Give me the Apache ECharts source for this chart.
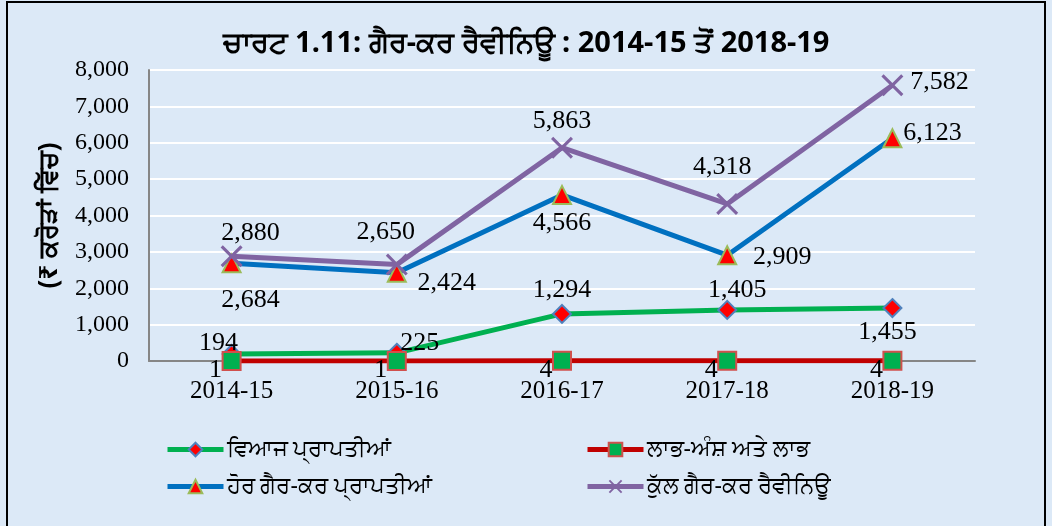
<!DOCTYPE html>
<html>
<head>
<meta charset="utf-8">
<script src="https://cdn.jsdelivr.net/npm/echarts@6/dist/echarts.min.js"></script>
<style>
    html, body { margin: 0; padding: 0; }
    #main { width: 1052px; height: 526px; }
</style>
</head>
<body>
<div id="main"></div>
<script>
// data
var years = ['2014-15', '2015-16', '2016-17', '2017-18', '2018-19'];
var interest = [194, 225, 1294, 1405, 1455];
var dividends = [1, 1, 4, 4, 4];
var otherReceipts = [2684, 2424, 4566, 2909, 6123];
var totalRevenue = [2880, 2650, 5863, 4318, 7582];
var names = ['ਵਿਆਜ ਪ੍ਰਾਪਤੀਆਂ', 'ਲਾਭ-ਅੰਸ਼ ਅਤੇ ਲਾਭ', 'ਹੋਰ ਗੈਰ-ਕਰ ਪ੍ਰਾਪਤੀਆਂ', 'ਕੁੱਲ ਗੈਰ-ਕਰ ਰੈਵੀਨਿਊ'];

// label offsets from each point (px)
var offInterest = [[-13, -11], [23, -10], [0, -24], [10, -20], [-5, 24]];
var offDividend = [[-16, 9], [-16, 9], [-16, 9], [-16, 9], [-16, 9]];
var offOther = [[19, 37], [50, 10], [0, 28], [55, 2], [40, -5]];
var offTotal = [[19, -23], [-11, -32], [0, -27], [-5, -37], [47, -3]];

var serif = '"Liberation Serif", "Times New Roman", serif';
var gurmukhi = '"Noto Sans", "DejaVu Sans", sans-serif';

function fmt(v) {
    return v.toLocaleString('en-US');
}

function withLabels(values, offsets) {
    return values.map(function (v, i) {
        return {
            value: v,
            label: { offset: offsets[i] }
        };
    });
}

var labelBase = {
    show: true,
    position: 'inside',
    color: '#000',
    fontFamily: serif,
    fontSize: 26,
    formatter: function (p) { return fmt(p.value); }
};

var crossPath = 'path://M0,1 L1,0 L5,4 L9,0 L10,1 L6,5 L10,9 L9,10 L5,6 L1,10 L0,9 L4,5 Z';

var myChart = echarts.init(document.getElementById('main'));

function legendAt(name, left, top) {
    return {
        data: [name],
        left: left,
        top: top,
        itemWidth: 56,
        itemHeight: 17,
        padding: 0,
        lineStyle: { width: 5 },
        textStyle: { fontFamily: gurmukhi, fontSize: 23, color: '#000', padding: [0, 0, 0, -2] }
    };
}

var option = {
    backgroundColor: '#dce9f7',
    animation: false,
    title: {
        text: 'ਚਾਰਟ 1.11: ਗੈਰ-ਕਰ ਰੈਵੀਨਿਊ : 2014-15 ਤੋਂ 2018-19',
        left: 'center',
        top: 29,
        padding: 0,
        textStyle: { fontFamily: gurmukhi, fontSize: 29, fontWeight: 'bold', color: '#000' }
    },
    legend: [
        legendAt(names[0], 165, 438),
        legendAt(names[1], 585, 438),
        legendAt(names[2], 165, 475),
        legendAt(names[3], 585, 475)
    ],
    grid: { left: 149, right: 77, top: 70, bottom: 165 },
    xAxis: {
        type: 'category',
        data: years,
        boundaryGap: true,
        axisLine: { lineStyle: { color: '#868686', width: 2 } },
        axisTick: { show: false },
        axisLabel: { color: '#000', fontFamily: serif, fontSize: 25, margin: 18 }
    },
    yAxis: {
        type: 'value',
        min: 0,
        max: 8000,
        interval: 1000,
        name: '(₹ ਕਰੋੜਾਂ ਵਿੱਚ)',
        nameLocation: 'middle',
        nameGap: 86,
        nameTextStyle: { fontFamily: gurmukhi, fontSize: 26, fontWeight: 'bold', color: '#000' },
        axisLine: { show: true, lineStyle: { color: '#868686', width: 2 } },
        axisTick: { show: false },
        splitLine: { lineStyle: { color: '#ffffff', width: 2 } },
        axisLabel: { color: '#000', fontFamily: serif, fontSize: 24, margin: 20, formatter: fmt }
    },
    series: [
        {
            name: names[0],
            type: 'line',
            data: withLabels(interest, offInterest),
            symbol: 'diamond',
            symbolSize: 18,
            lineStyle: { color: '#00b050', width: 5 },
            itemStyle: { color: '#ff0000', borderColor: '#4f81bd', borderWidth: 2 },
            label: labelBase
        },
        {
            name: names[1],
            type: 'line',
            data: withLabels(dividends, offDividend),
            symbol: 'rect',
            symbolSize: 18,
            lineStyle: { color: '#c00000', width: 5 },
            itemStyle: { color: '#00b050', borderColor: '#d0504d', borderWidth: 2 },
            label: labelBase
        },
        {
            name: names[2],
            type: 'line',
            data: withLabels(otherReceipts, offOther),
            symbol: 'triangle',
            symbolSize: 18,
            lineStyle: { color: '#0070c0', width: 5 },
            itemStyle: { color: '#ff0000', borderColor: '#9bbb59', borderWidth: 2 },
            label: labelBase
        },
        {
            name: names[3],
            type: 'line',
            data: withLabels(totalRevenue, offTotal),
            symbol: crossPath,
            symbolSize: 22,
            lineStyle: { color: '#8064a2', width: 5 },
            itemStyle: { color: '#8064a2' },
            label: labelBase
        }
    ],
    graphic: [
        { type: 'rect', shape: { x: 7, y: 2, width: 1038, height: 540 }, style: { fill: 'none', stroke: '#000', lineWidth: 2 }, silent: true }
    ]
};

myChart.setOption(option);

window.addEventListener('resize', function () {
    myChart.resize();
});
</script>
</body>
</html>
